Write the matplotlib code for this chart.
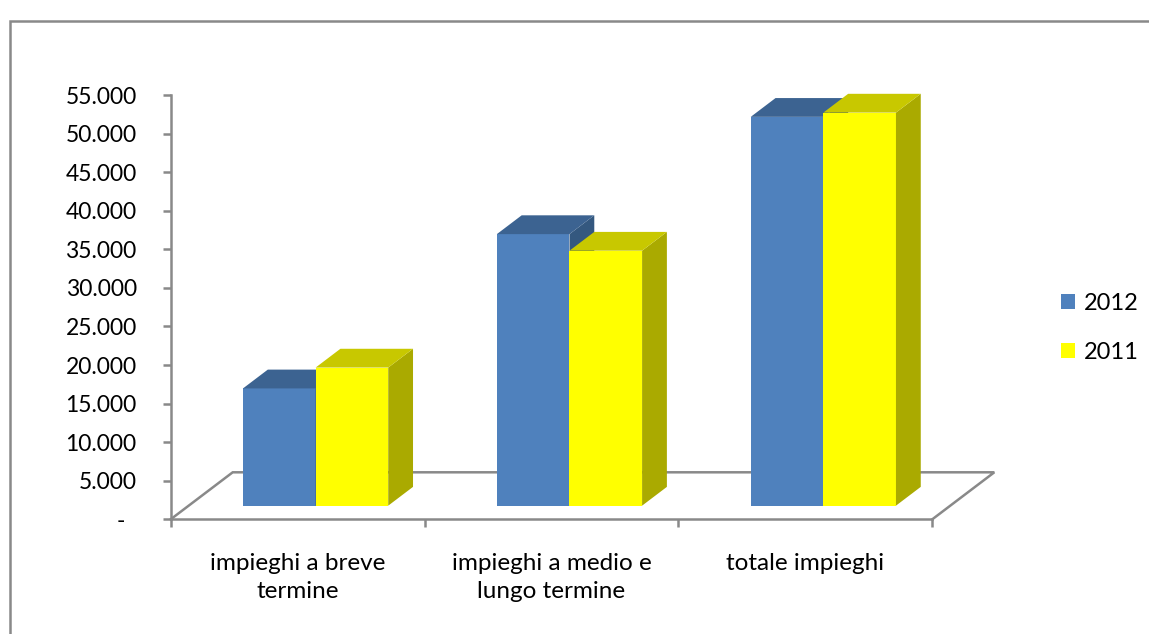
import matplotlib.pyplot as plt
from matplotlib.patches import Polygon, Rectangle, Patch
from matplotlib.ticker import FuncFormatter
import numpy as np

# impieghi (migliaia di euro), 2012 vs 2011
categorie = ["impieghi a breve\ntermine", "impieghi a medio e\nlungo termine", "totale impieghi"]
anni = ["2012", "2011"]
val_2012 = [15200, 35200, 50400]
val_2011 = [17900, 33050, 50950]

# colori: fronte, tetto, fianco
col_2012 = ("#4F81BD", "#3C6391", "#34587F")
col_2011 = ("#FFFF00", "#C8C800", "#AAAA00")
grigio = "#898989"

plt.rcParams['font.family'] = ['Lato', 'DejaVu Sans']

W, H = 1149, 634
fig = plt.figure(figsize=(W / 100, H / 100), dpi=100)
ax_l, ax_r, ax_b, ax_t = 170.7, 932.3, 519.3, 95.0
ax = fig.add_axes([ax_l / W, (H - ax_b) / H, (ax_r - ax_l) / W, (ax_b - ax_t) / H])

ymax = 55000
ax.set_xlim(0, 3)
ax.set_ylim(0, ymax)

# conversione pixel -> unita' dati per la prospettiva obliqua
ppx = (ax_r - ax_l) / 3
ppy = (ax_b - ax_t) / ymax
floor_dx, floor_dy = 62 / ppx, 47 / ppy      # profondita' del pavimento
f0, f1 = 0.29, 0.69                          # fronte / retro delle colonne
bw = 0.286                                   # larghezza colonna

# pavimento
ax.plot([0, floor_dx, 3 + floor_dx, 3], [0, floor_dy, floor_dy, 0],
        color=grigio, lw=1.8, clip_on=False, zorder=1, solid_joinstyle='miter')

def colonna(x0, v, cols):
    fx, fy = f0 * floor_dx, f0 * floor_dy
    dx, dy = (f1 - f0) * floor_dx, (f1 - f0) * floor_dy
    ax.bar(x0 + fx, v, width=bw, bottom=fy, align='edge', color=cols[0],
           lw=0, zorder=3, clip_on=False)
    xl, xr, yt, yb = x0 + fx, x0 + fx + bw, fy + v, fy
    top = Polygon([(xl, yt), (xr, yt), (xr + dx, yt + dy), (xl + dx, yt + dy)],
                  closed=True, fc=cols[1], lw=0, zorder=3, clip_on=False)
    side = Polygon([(xr, yb), (xr + dx, yb + dy), (xr + dx, yt + dy), (xr, yt)],
                   closed=True, fc=cols[2], lw=0, zorder=3, clip_on=False)
    ax.add_patch(side)
    ax.add_patch(top)

centri = np.arange(len(categorie)) + 0.5
for c, a, b in zip(centri, val_2012, val_2011):
    colonna(c - bw, a, col_2012)
    colonna(c, b, col_2011)

# assi
for s in ['top', 'right']:
    ax.spines[s].set_visible(False)
for s in ['left', 'bottom']:
    ax.spines[s].set_color(grigio)
    ax.spines[s].set_linewidth(1.8)
    ax.spines[s].set_zorder(2)

ax.set_yticks(np.arange(0, ymax + 1, 5000))
ax.yaxis.set_major_formatter(FuncFormatter(
    lambda v, p: "-  " if v == 0 else f"{int(v):,}".replace(",", ".")))
ax.tick_params(axis='y', direction='out', length=5.5, width=1.8, color=grigio,
               labelsize=16.5, pad=19, labelcolor='black')

ax.set_xticks([0, 1, 2, 3])
ax.set_xticklabels([])
ax.tick_params(axis='x', which='major', direction='out', length=5.5, width=1.8, color=grigio)
ax.set_xticks(centri, minor=True)
ax.set_xticklabels(categorie, minor=True, fontsize=17.5, linespacing=1.45)
ax.tick_params(axis='x', which='minor', length=0, pad=24)

# legenda
handles = [Patch(fc=col_2012[0]), Patch(fc=col_2011[0])]
fig.legend(handles, anni, loc='center left', bbox_to_anchor=(1061 / W, 1 - 328 / H),
           frameon=False, fontsize=17, handlelength=0.6, handleheight=0.6,
           handletextpad=0.35, labelspacing=1.2, borderpad=0, borderaxespad=0)

# cornice del grafico
fig.patches.append(Rectangle((9.5 / W, -0.2), 2, 1.2 - 20.5 / H, transform=fig.transFigure,
                             fill=False, ec=grigio, lw=1.8))

fig.savefig("out.png", dpi=100, facecolor='white')
